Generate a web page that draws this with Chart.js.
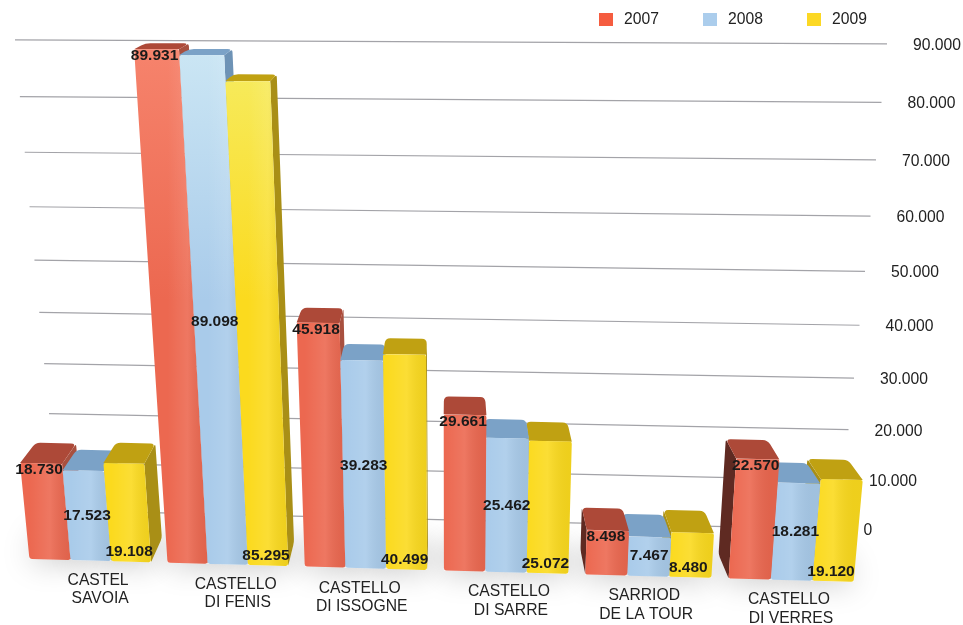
<!DOCTYPE html>
<html>
<head>
<meta charset="utf-8">
<title>Castelli</title>
<script src="https://cdn.jsdelivr.net/npm/chart.js@4/dist/chart.umd.min.js"></script>
<style>
  html, body { margin: 0; padding: 0; background: #fff; }
  canvas { display: block; }
</style>
</head>
<body>
<canvas id="chart" width="963" height="625"></canvas>
<script>
// =======================
// Data
// =======================
const categories = [
  ['CASTEL', 'SAVOIA'],
  ['CASTELLO', 'DI FENIS'],
  ['CASTELLO', 'DI ISSOGNE'],
  ['CASTELLO', 'DI SARRE'],
  ['SARRIOD', 'DE LA TOUR'],
  ['CASTELLO', 'DI VERRES']
];
const values2007 = [18730, 89931, 45918, 29661, 8498, 22570];
const values2008 = [17523, 89098, 39283, 25462, 7467, 18281];
const values2009 = [19108, 85295, 40499, 25072, 8480, 19120];
const yTicks = [0, 10000, 20000, 30000, 40000, 50000, 60000, 70000, 80000, 90000];

// =======================
// Look of each series
// =======================
const FONT = '"Liberation Sans", Arial, sans-serif';
const COLORS = {
  '2007': { legend: '#f55c3f', light: '#f6836c', front: '#ec6850', top: '#ad4938', side: '#a8503f', sideLeft: '#5f2a22' },
  '2008': { legend: '#abcdec', light: '#cbe6f4', front: '#a9cbea', top: '#7ba2c7', side: '#6e93b6', sideLeft: '#6e93b6' },
  '2009': { legend: '#fcd824', light: '#f6ec62', front: '#fbda1e', top: '#c0a112', side: '#a98f16', sideLeft: '#a98f16' }
};
const LABEL_NUDGE = [7, 8, -6, 3, -4, -3];

function formatValue(v) {
  return String(v).replace(/\B(?=(\d{3})+$)/g, '.');
}

// =======================
// Perspective helpers
// =======================
const VANISH_X = 450;

// value in thousands for a pixel of the y scale
function thousands(area, py) {
  return 90 * (area.bottom - py) / area.height;
}

// front plane of the bars
function front(area, px, py) {
  const v = thousands(area, py);
  const bend = px > 91 && px < 792 ? 6 * Math.sin(Math.PI * (px - 91) / 701) : 0;
  const x0 = px - bend;
  const h = 5.2 * v + 7.2e-5 * v * v * v;
  return {
    x: x0 - (VANISH_X - x0) * h / 4400,
    y: 570.6 + (x0 - VANISH_X) * 0.028 * (1 - v / 110) - h,
    v: v
  };
}

// same point moved back to the rear of the box
function back(p) {
  return { x: p.x + (VANISH_X - p.x) * 0.036, y: p.y - (24 - 0.2 * p.v) };
}

// polygon with softened corners, radii given per vertex
function poly(ctx, pts, fill, radii) {
  const n = pts.length;
  ctx.beginPath();
  pts.forEach((p, i) => {
    const prev = pts[(i + n - 1) % n];
    const next = pts[(i + 1) % n];
    const toPrev = Math.hypot(prev.x - p.x, prev.y - p.y);
    const toNext = Math.hypot(next.x - p.x, next.y - p.y);
    const d = Math.min(radii[i], toPrev / 2.2, toNext / 2.2);
    const ax = p.x + (prev.x - p.x) * d / toPrev;
    const ay = p.y + (prev.y - p.y) * d / toPrev;
    const bx = p.x + (next.x - p.x) * d / toNext;
    const by = p.y + (next.y - p.y) * d / toNext;
    if (i) ctx.lineTo(ax, ay); else ctx.moveTo(ax, ay);
    ctx.quadraticCurveTo(p.x, p.y, bx, by);
  });
  ctx.closePath();
  ctx.fillStyle = fill;
  ctx.fill();
}

// =======================
// Wall: grid lines and tick labels
// =======================
function drawWall(chart) {
  const ctx = chart.ctx;
  const area = chart.chartArea;
  const yScale = chart.scales.y;
  ctx.save();
  yTicks.forEach(tick => {
    const v = thousands(area, yScale.getPixelForValue(tick));
    const mid = 520 - (4.8 * v + 0.0057 * v * v);
    const slope = 0.0046 + (90 - v) * 0.00022;
    const left = 15 + (90 - v) * 0.486;
    const right = 887 - (90 - v) * 0.55;
    const yAt = x => mid + slope * (x - VANISH_X);
    ctx.beginPath();
    ctx.moveTo(left, yAt(left));
    ctx.lineTo(right, yAt(right));
    ctx.strokeStyle = '#a3a3a8';
    ctx.lineWidth = 1.2;
    ctx.stroke();
    ctx.fillStyle = '#222';
    ctx.font = '15.7px ' + FONT;
    ctx.textAlign = 'left';
    ctx.textBaseline = 'middle';
    ctx.fillText(formatValue(tick), right + 26, yAt(right) + 1.5);
  });
  ctx.restore();
}

// =======================
// Soft shadow on the floor
// =======================
function drawFloorShadow(chart, boxes) {
  const ctx = chart.ctx;
  ctx.save();
  ctx.shadowColor = 'rgba(0,0,0,0.28)';
  ctx.shadowBlur = 32;
  boxes.forEach(b => {
    poly(ctx, [b.bl, b.br, back(b.br), back(b.bl)], '#fff', [0, 0, 0, 0]);
  });
  ctx.restore();
}

// =======================
// Bars
// =======================
function collectBoxes(chart) {
  const area = chart.chartArea;
  const boxes = [];
  chart.data.datasets.forEach((ds, di) => {
    chart.getDatasetMeta(di).data.forEach((bar, i) => {
      const l = bar.x - bar.width / 2;
      const r = bar.x + bar.width / 2;
      boxes.push({
        series: ds.label,
        dataset: di,
        index: i,
        value: ds.data[i],
        cx: bar.x,
        tl: front(area, l, bar.y),
        tr: front(area, r, bar.y),
        bl: front(area, l, bar.base),
        br: front(area, r, bar.base)
      });
    });
  });
  // outermost boxes first, so inner ones cover their side faces
  return boxes.sort((a, b) => Math.abs(b.cx - VANISH_X) - Math.abs(a.cx - VANISH_X));
}

function drawBox(ctx, b) {
  const c = COLORS[b.series];
  const btl = back(b.tl), btr = back(b.tr), bbl = back(b.bl), bbr = back(b.br);
  if (btr.x > b.tr.x) poly(ctx, [b.tr, btr, bbr, b.br], c.side, [0, 3, 3, 1]);
  if (btl.x < b.tl.x) poly(ctx, [b.tl, btl, bbl, b.bl], c.sideLeft, [0, 3, 3, 1]);
  poly(ctx, [b.tl, btl, btr, b.tr], c.top, [0, 5, 5, 0]);

  const frontFace = [b.tl, b.tr, b.br, b.bl];
  const corners = [2, 2, 2.5, 2.5];
  const g = ctx.createLinearGradient(0, 50, 0, 300);
  g.addColorStop(0, c.light);
  g.addColorStop(1, c.front);
  poly(ctx, frontFace, g, corners);

  // faint vertical sheen across the face
  const s = ctx.createLinearGradient(b.bl.x, 0, b.br.x, 0);
  s.addColorStop(0, 'rgba(255,255,255,0)');
  s.addColorStop(0.5, 'rgba(255,255,255,0.10)');
  s.addColorStop(1, 'rgba(0,0,0,0.05)');
  poly(ctx, frontFace, s, corners);
}

function drawValueLabel(ctx, b) {
  let x, y;
  if (b.dataset === 0) {
    x = (b.tl.x + b.tr.x) / 2 - 2;
    y = b.tl.y + 7;
  } else if (b.dataset === 1) {
    x = (b.tl.x + b.tr.x + b.bl.x + b.br.x) / 4;
    y = (b.tl.y + b.bl.y) / 2 + 0.0015 * b.tl.v * b.tl.v;
  } else {
    x = (b.bl.x + b.br.x) / 2 - 2;
    y = b.bl.y - 9.5;
  }
  ctx.font = 'bold 15.5px ' + FONT;
  ctx.fillStyle = '#1a1a1a';
  ctx.textAlign = 'center';
  ctx.textBaseline = 'middle';
  ctx.fillText(formatValue(b.value), x, y);
}

function drawCategoryLabels(chart) {
  const ctx = chart.ctx;
  const xScale = chart.scales.x;
  const area = chart.chartArea;
  ctx.save();
  ctx.font = '15.7px ' + FONT;
  ctx.fillStyle = '#222';
  ctx.textAlign = 'center';
  ctx.textBaseline = 'middle';
  categories.forEach((lines, i) => {
    const p = front(area, xScale.getPixelForValue(i), area.bottom);
    lines.forEach((line, n) => {
      ctx.fillText(line, p.x + LABEL_NUDGE[i] + n * 2, p.y + 20 + n * 18.5);
    });
  });
  ctx.restore();
}

function drawLegend(chart) {
  const ctx = chart.ctx;
  ctx.save();
  ctx.font = '15.7px ' + FONT;
  ctx.textAlign = 'left';
  ctx.textBaseline = 'middle';
  chart.data.datasets.forEach((ds, i) => {
    const x = 599 + i * 104;
    ctx.fillStyle = COLORS[ds.label].legend;
    ctx.fillRect(x, 13, 14, 13);
    ctx.fillStyle = '#222';
    ctx.fillText(ds.label, x + 25, 20);
  });
  ctx.restore();
}

const perspectivePlugin = {
  id: 'perspective',
  beforeDatasetsDraw(chart) {
    const boxes = collectBoxes(chart);
    drawWall(chart);
    drawFloorShadow(chart, boxes);
    boxes.forEach(b => drawBox(chart.ctx, b));
    chart.ctx.save();
    boxes.forEach(b => drawValueLabel(chart.ctx, b));
    chart.ctx.restore();
    drawCategoryLabels(chart);
    drawLegend(chart);
  },
  // the boxes above replace the flat bars
  beforeDatasetDraw() {
    return false;
  }
};

// =======================
// Chart
// =======================
new Chart(document.getElementById('chart'), {
  type: 'bar',
  data: {
    labels: categories,
    datasets: [
      { label: '2007', data: values2007, backgroundColor: COLORS['2007'].legend },
      { label: '2008', data: values2008, backgroundColor: COLORS['2008'].legend },
      { label: '2009', data: values2009, backgroundColor: COLORS['2009'].legend }
    ]
  },
  options: {
    responsive: false,
    animation: false,
    layout: { padding: { left: 21, right: 101, top: 40, bottom: 60 } },
    datasets: { bar: { categoryPercentage: 0.88, barPercentage: 1 } },
    scales: {
      x: { display: false },
      y: { display: false, min: 0, max: 90000 }
    },
    plugins: {
      legend: { display: false },
      tooltip: { enabled: false }
    }
  },
  plugins: [perspectivePlugin]
});
</script>
</body>
</html>
